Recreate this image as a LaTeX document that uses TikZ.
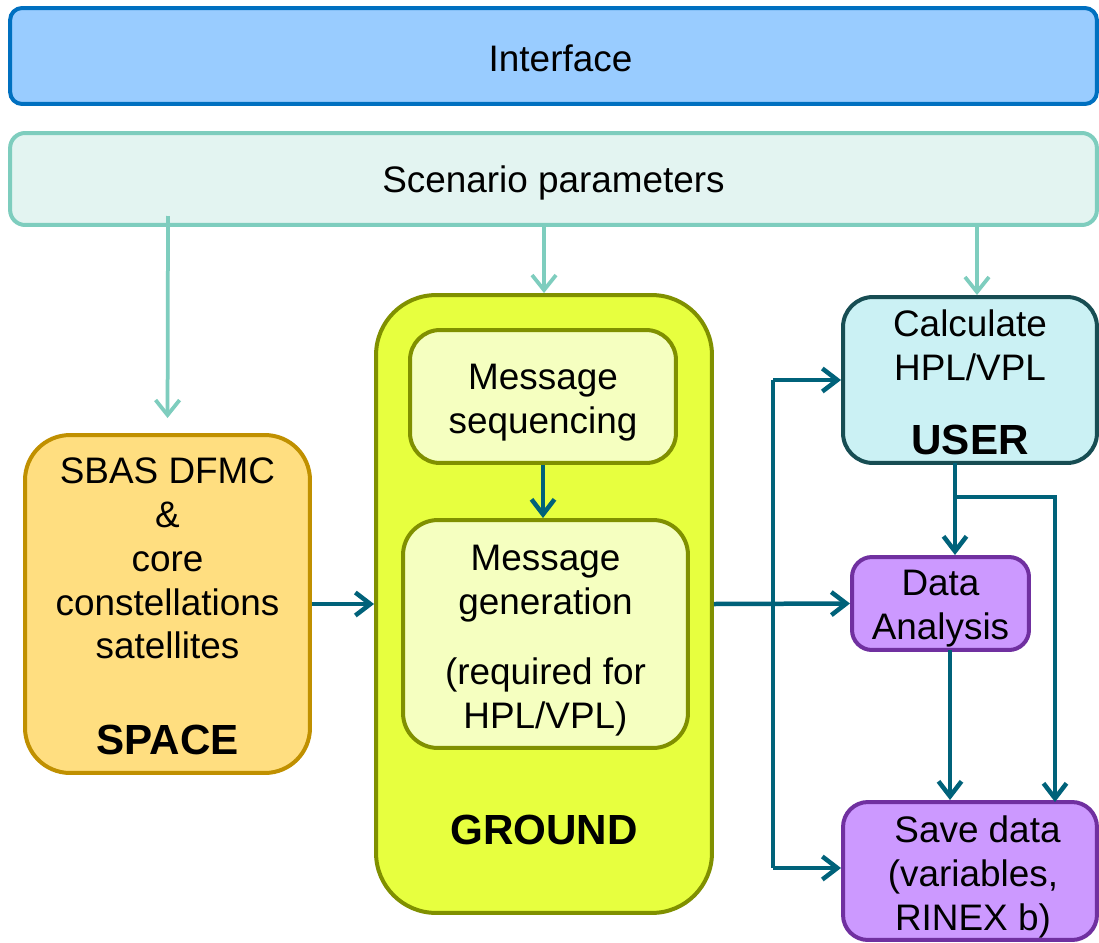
\documentclass[tikz,border=0pt]{standalone}
\usepackage{fontspec}
\setmainfont{Liberation Sans}
\usetikzlibrary{arrows.meta,calc}
\definecolor{ifill}{HTML}{99CCFF}
\definecolor{idraw}{HTML}{0070C0}
\definecolor{sfill}{HTML}{E3F4F1}
\definecolor{sdraw}{HTML}{7ECDBE}
\definecolor{spfill}{HTML}{FFDE80}
\definecolor{spdraw}{HTML}{C09000}
\definecolor{gfill}{HTML}{E7FF3F}
\definecolor{gdraw}{HTML}{809000}
\definecolor{infill}{HTML}{F5FFC0}
\definecolor{ufill}{HTML}{CBF1F4}
\definecolor{udraw}{HTML}{174D53}
\definecolor{pfill}{HTML}{CC99FF}
\definecolor{pdraw}{HTML}{7030A0}
\definecolor{darrc}{HTML}{00627A}
\tikzset{
  box/.style={draw, line width=0.08cm, align=center, inner sep=0pt,
    font=\fontsize{21}{25}\selectfont},
  tarr/.style={draw=sdraw, line width=0.075cm, -{Straight Barb[length=0.3cm,width=0.48cm]}},
  darr/.style={draw=darrc, line width=0.09cm, -{Straight Barb[length=0.3cm,width=0.46cm]}},
  dline/.style={draw=darrc, line width=0.09cm},
  bigl/.style={font=\bfseries\fontsize{24}{25}\selectfont, inner sep=0pt}
}
\newcommand{\bigt}[1]{{\bfseries\fontsize{24}{25}\selectfont #1}}
\newcommand{\tp}[1]{\rule{0pt}{#1}}
\begin{document}
\begin{tikzpicture}[x=0.02cm,y=-0.02cm]
\fill[white] (0,0) rectangle (1099,943);
\useasboundingbox (0,0) rectangle (1099,943);
% boxes
\node[box, draw=idraw, fill=ifill, rounded corners=0.24cm, minimum width=21.74cm, minimum height=1.92cm] (iface) at (553.5,56) {\tp{0.62cm}\hspace{0.28cm}Interface};
\node[box, draw=sdraw, fill=sfill, rounded corners=0.3cm, minimum width=21.74cm, minimum height=1.84cm] (scen) at (553.5,179) {\tp{0.71cm}Scenario parameters};
\node[box, draw=spdraw, fill=spfill, rounded corners=0.9cm, minimum width=5.7cm, minimum height=6.76cm] (space) at (167.5,604)
  {\tp{0.61cm}SBAS DFMC\\\&\\core\\constellations\\satellites\\[1.04cm]\bigt{SPACE}};
\node[box, draw=gdraw, fill=gfill, rounded corners=1.2cm, minimum width=6.72cm, minimum height=12.36cm] (ground) at (544,604) {};
\node[bigl] (groundlbl) at (544,830) {GROUND};
\node[box, draw=gdraw, fill=infill, rounded corners=0.6cm, minimum width=5.32cm, minimum height=2.66cm] (seq) at (543,396.5) {\tp{0.77cm}Message\\sequencing};
\node[box, draw=gdraw, fill=infill, rounded corners=0.7cm, minimum width=5.7cm, minimum height=4.56cm] (gen) at (545.5,634)
  {\tp{0.77cm}Message\\generation\\[0.52cm](required for\\HPL/VPL)};
\node[box, draw=udraw, fill=ufill, rounded corners=0.6cm, minimum width=5.08cm, minimum height=3.32cm] (user) at (970,380)
  {\tp{0.62cm}Calculate\\HPL/VPL\\[0.6cm]\bigt{USER}};
\node[box, draw=pdraw, fill=pfill, rounded corners=0.4cm, minimum width=3.54cm, minimum height=1.86cm] (data) at (940.5,603.5) {\tp{0.73cm}Data\\Analysis};
\node[box, draw=pdraw, fill=pfill, rounded corners=0.5cm, minimum width=5.08cm, minimum height=2.76cm] (save) at (970,871) {\tp{0.78cm}\hspace{0.3cm}Save data\\\hspace{0.12cm}(variables,\\\hspace{0.12cm}RINEX b)};
% helper coordinates
\coordinate (t1) at (168,216);
\coordinate (t3) at (977,227);
\coordinate (busT) at (773,380);
\coordinate (busB) at (773,868);
\coordinate (ua) at (955,463);
\coordinate (br) at (957,497);
\coordinate (sv) at (1055,802);
\coordinate (da) at (950,650);
% teal arrows
\draw[tarr, shorten >=0.3cm] (t1) -- (space.north);
\draw[tarr] (scen.south -| ground.north) -- (ground.north);
\draw[tarr] (t3) -- (t3 |- user.north);
% dark arrows
\draw[darr] (seq.south) -- (seq.south |- gen.north);
\draw[darr] (space.east) -- (ground.west |- space.east);
\draw[darr] (ground.east) -- (data.west);
\draw[dline] (busT) -- (busB);
\draw[darr] (busT) -- (user.west |- busT);
\draw[darr] (busB) -- (save.west |- busB);
\draw[darr] (ua) -- (ua |- data.north);
\draw[darr] (br) -| (sv);
\draw[darr] (da) -- (da |- save.north);
\end{tikzpicture}
\end{document}
